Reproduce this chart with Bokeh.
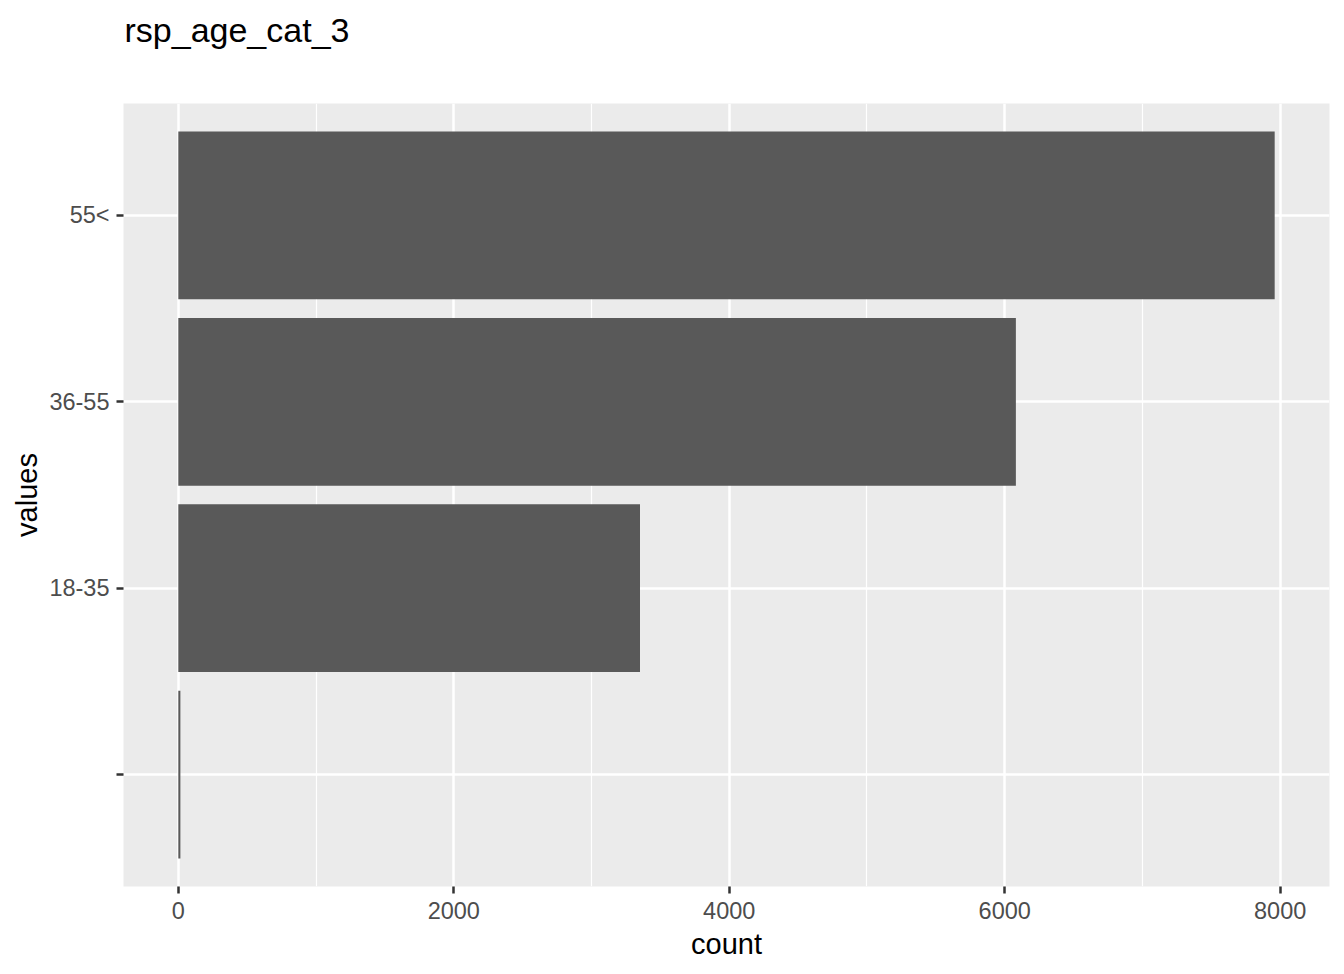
from bokeh.plotting import figure
from bokeh.models import Range1d, FixedTicker, ColumnDataSource, Title
from bokeh.embed import file_html
from bokeh.resources import INLINE

# Data
title_text = "rsp_age_cat_3"
categories = ["", "18-35", "36-55", "55<"]
counts = [15, 3352, 6081, 7960]
x_ticks = [0, 2000, 4000, 6000, 8000]
x_minor = [1000, 3000, 5000, 7000]

ypos = list(range(1, len(categories) + 1))
src = ColumnDataSource(dict(y=ypos, count=counts, cat=categories))

xmax = max(counts)
p = figure(width=1336, height=966, output_backend="svg", toolbar_location=None,
           x_range=Range1d(-0.05 * xmax, 1.05 * xmax),
           y_range=Range1d(0.4, len(categories) + 0.6))

p.min_border_left = 123
p.min_border_right = 7
p.min_border_top = 103
p.min_border_bottom = 80

p.background_fill_color = "#EBEBEB"
p.border_fill_color = "white"
p.outline_line_color = None

p.hbar(y="y", right="count", left=0, height=0.9, source=src,
       fill_color="#595959", line_color=None)

FONT = "Liberation Sans"

# spacer between frame and title (closest to the frame)
p.add_layout(Title(text=" ", text_font_size="1px", standoff=46), "above")
# the title itself
p.add_layout(Title(text=title_text, text_font=FONT, text_font_size="34px",
                   text_font_style="normal", text_color="black",
                   align="left", offset=1, standoff=12), "above")

xaxis = p.xaxis[0]
xaxis.ticker = FixedTicker(ticks=x_ticks, minor_ticks=x_minor)
yaxis = p.yaxis[0]
yaxis.ticker = FixedTicker(ticks=ypos, minor_ticks=[])
yaxis.major_label_overrides = {y: c for y, c in zip(ypos, categories)}

for ax in (xaxis, yaxis):
    ax.axis_line_color = None
    ax.major_tick_line_color = "#333333"
    ax.major_tick_line_width = 2.5
    ax.major_tick_out = 7
    ax.major_tick_in = 0
    ax.minor_tick_line_color = None
    ax.major_label_text_font = FONT
    ax.major_label_text_font_size = "23.5px"
    ax.major_label_text_color = "#4D4D4D"
    ax.axis_label_text_font = FONT
    ax.axis_label_text_font_size = "29px"
    ax.axis_label_text_font_style = "normal"
    ax.axis_label_text_color = "black"

xaxis.axis_label = "count"
yaxis.axis_label = "values"
xaxis.major_label_standoff = 8
xaxis.axis_label_standoff = 6
yaxis.major_label_standoff = 7
yaxis.axis_label_standoff = 3

p.xgrid.grid_line_color = "white"
p.xgrid.grid_line_width = 2.5
p.xgrid.minor_grid_line_color = "white"
p.xgrid.minor_grid_line_width = 1.2
p.ygrid.grid_line_color = "white"
p.ygrid.grid_line_width = 2.5
p.ygrid.minor_grid_line_color = None

open("out.html", "w").write(file_html(p, INLINE))
